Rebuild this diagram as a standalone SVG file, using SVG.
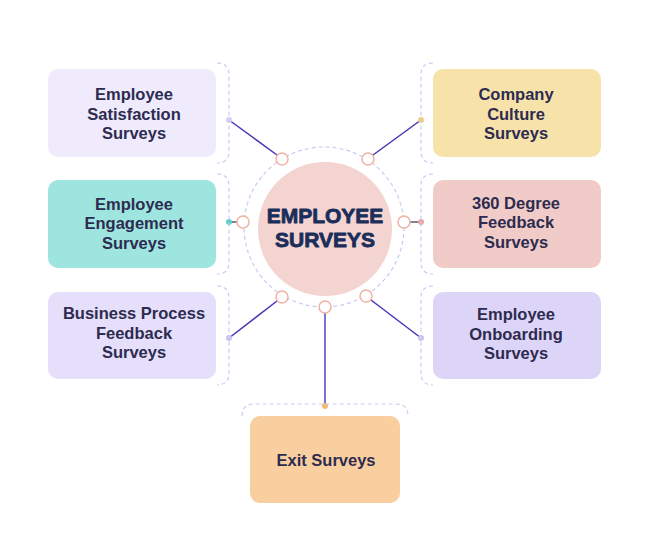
<svg xmlns="http://www.w3.org/2000/svg" width="650" height="555" viewBox="0 0 650 555">
<style>
.box{stroke:none}
.lbl{font-family:"Liberation Sans",Arial,sans-serif;font-weight:700;font-size:16.5px;fill:#2d2b4f;text-anchor:middle}
.ctr{font-family:"Liberation Sans",Arial,sans-serif;font-weight:700;font-size:21px;fill:#1b2d5a;stroke:#1b2d5a;stroke-width:0.8;stroke-linejoin:round;text-anchor:middle}
.dash{fill:none;stroke:#cdc8f5;stroke-width:1.2;stroke-dasharray:4 3}
.conn{stroke:#4536b5;stroke-width:1.5;fill:none}
.short{stroke:#5a5870;stroke-width:1.5}
.port{fill:#fff;stroke:#f0b2a6;stroke-width:1.5}
</style>
<rect width="650" height="555" fill="#fff"/>
<g id="center">
<circle class="dash" cx="324" cy="227" r="80"/>
<circle cx="325" cy="229" r="67" fill="#f3d4d0"/>
<text class="ctr" x="325" y="223">EMPLOYEE</text>
<text class="ctr" x="325" y="247">SURVEYS</text>
</g>
<g id="connectors">
<line class="conn" x1="229" y1="120" x2="277" y2="155"/>
<line class="conn" x1="421" y1="120" x2="373" y2="155"/>
<line class="short" x1="229" y1="222" x2="237" y2="222"/>
<line class="short" x1="410" y1="222" x2="420" y2="222"/>
<line class="conn" x1="229" y1="338" x2="277" y2="301"/>
<line class="conn" x1="421" y1="338" x2="371" y2="300"/>
<line x1="325" y1="313" x2="325" y2="406" stroke="#7e72d2" stroke-width="2"/>
<circle class="port" cx="282" cy="159" r="6"/>
<circle class="port" cx="368" cy="159" r="6"/>
<circle class="port" cx="243" cy="222" r="6"/>
<circle class="port" cx="404" cy="222" r="6"/>
<circle class="port" cx="282" cy="297" r="6"/>
<circle class="port" cx="366" cy="296" r="6"/>
<circle class="port" cx="325" cy="307" r="6"/>
<circle cx="229" cy="120" r="3" fill="#d6d1f5"/>
<circle cx="421" cy="120" r="3" fill="#f5cf80"/>
<circle cx="229" cy="222" r="3" fill="#5fcfc8"/>
<circle cx="421" cy="222" r="3" fill="#e9a9a6"/>
<circle cx="229" cy="338" r="3" fill="#cbc3f2"/>
<circle cx="421" cy="338" r="3" fill="#cbc3f2"/>
<circle cx="325" cy="406" r="3" fill="#f6b877"/>
</g>
<g id="n-satisfaction">
<path class="dash" d="M217,63 Q229,63 229,75 L229,151 Q229,163 217,163"/>
<rect class="box" x="48" y="69" width="168" height="88" rx="10" fill="#efebfd"/>
<text class="lbl" x="134" y="100">Employee</text>
<text class="lbl" x="134" y="119.5">Satisfaction</text>
<text class="lbl" x="134" y="139">Surveys</text>
</g>
<g id="n-engagement">
<path class="dash" d="M217,174 Q229,174 229,186 L229,262 Q229,274 217,274"/>
<rect class="box" x="48" y="180" width="168" height="88" rx="10" fill="#9ee5e0"/>
<text class="lbl" x="134" y="209.5">Employee</text>
<text class="lbl" x="134" y="229">Engagement</text>
<text class="lbl" x="134" y="248.5">Surveys</text>
</g>
<g id="n-business">
<path class="dash" d="M217,286 Q229,286 229,298 L229,373 Q229,385 217,385"/>
<rect class="box" x="48" y="292" width="168" height="87" rx="10" fill="#e6dffc"/>
<text class="lbl" x="134" y="319">Business Process</text>
<text class="lbl" x="134" y="338.5">Feedback</text>
<text class="lbl" x="134" y="358">Surveys</text>
</g>
<g id="n-culture">
<path class="dash" d="M433,63 Q421,63 421,75 L421,151 Q421,163 433,163"/>
<rect class="box" x="433" y="69" width="168" height="88" rx="10" fill="#f7e3a9"/>
<text class="lbl" x="516" y="100">Company</text>
<text class="lbl" x="516" y="119.5">Culture</text>
<text class="lbl" x="516" y="139">Surveys</text>
</g>
<g id="n-360">
<path class="dash" d="M433,174 Q421,174 421,186 L421,262 Q421,274 433,274"/>
<rect class="box" x="433" y="180" width="168" height="88" rx="10" fill="#f1cbc7"/>
<text class="lbl" x="516" y="208.5">360 Degree</text>
<text class="lbl" x="516" y="228">Feedback</text>
<text class="lbl" x="516" y="247.5">Surveys</text>
</g>
<g id="n-onboarding">
<path class="dash" d="M433,286 Q421,286 421,298 L421,373 Q421,385 433,385"/>
<rect class="box" x="433" y="292" width="168" height="87" rx="10" fill="#ddd5f8"/>
<text class="lbl" x="516" y="320">Employee</text>
<text class="lbl" x="516" y="339.5">Onboarding</text>
<text class="lbl" x="516" y="359">Surveys</text>
</g>
<g id="n-exit">
<path class="dash" d="M242,416 Q242,404 254,404 L396,404 Q408,404 408,416"/>
<rect class="box" x="250" y="416" width="150" height="87" rx="10" fill="#f9cf9f"/>
<text class="lbl" x="326" y="466">Exit Surveys</text>
</g>
</svg>
